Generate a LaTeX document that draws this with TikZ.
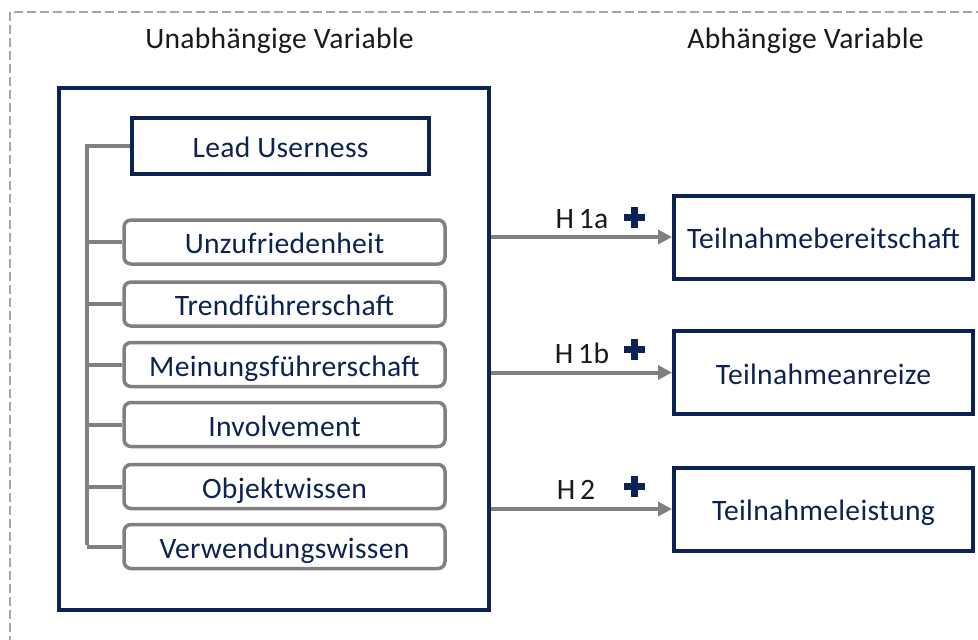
\documentclass[tikz,border=0pt]{standalone}
\usepackage{fontspec}
\setmainfont{Carlito}[LetterSpace=1]
\usetikzlibrary{arrows.meta}
\definecolor{navy}{RGB}{12,34,82}
\definecolor{linegray}{RGB}{128,128,128}
\definecolor{framegray}{RGB}{166,166,166}
\definecolor{inkblack}{RGB}{26,26,26}
\begin{document}
\begin{tikzpicture}[x=1pt,y=-1pt,
  font=\fontsize{29.6}{32}\selectfont,
  boxtext/.style={text height=23pt, text depth=0pt},
  frame/.style={draw=framegray, line width=1.3pt, dash pattern=on 9pt off 4pt},
  heading/.style={text=inkblack, inner sep=0pt, anchor=base},
  groupbox/.style={draw=navy, line width=4pt, minimum width=430pt, minimum height=522pt, inner sep=0pt},
  leadbox/.style={boxtext, draw=navy, line width=4pt, minimum width=297pt, minimum height=56pt, inner sep=0pt, text=navy},
  facet/.style={boxtext, draw=linegray, line width=3.5pt, rounded corners=7pt, minimum width=321pt, minimum height=44pt, inner sep=0pt, text=navy},
  target/.style={boxtext, draw=navy, line width=4pt, minimum width=299pt, minimum height=83pt, inner sep=0pt, text=navy},
  bracket/.style={draw=linegray, line width=4pt},
  hyp/.style={draw=linegray, line width=4pt, -{Triangle[length=14pt,width=14pt]}},
  hyplabel/.style={text=inkblack, inner sep=0pt, anchor=base},
  plussign/.style={fill=navy}
]
\useasboundingbox (0,0) rectangle (978,640);

% dashed outer frame (runs past the right and bottom edges)
\draw[frame] (10,12) rectangle (1000,660);

% column headings
\node[heading] (hIV) at (279.5,48.5) {Unabhängige Variable};
\node[heading] (hDV) at (805.5,48.5) {Abhängige Variable};

% independent variable group
\node[groupbox] (iv) at (274,349) {};
\node[leadbox] (lead) at (280.5,146) {Lead Userness};
\node[facet] (f1) at (284.5,242) {Unzufriedenheit};
\node[facet] (f2) at (284.5,304) {Trendführerschaft};
\node[facet] (f3) at (284.5,364.5) {Meinungsführerschaft};
\node[facet] (f4) at (284.5,424.5) {Involvement};
\node[facet] (f5) at (284.5,486.5) {Objektwissen};
\node[facet] (f6) at (284.5,546.5) {Verwendungswissen};

% bracket joining the facets to Lead Userness
\coordinate (spine) at (87,146);
\draw[bracket] (lead.west) -- (spine |- lead.west) -- ([yshift=2pt]spine |- f6.west);
\foreach \f in {f1,f2,f3,f4,f5,f6}
  \draw[bracket] (\f.west) -- (spine |- \f.west);

% dependent variables
\node[target] (t1) at (823.5,237) {Teilnahmebereitschaft};
\node[target] (t2) at (823.5,372.5) {Teilnahmeanreize};
\node[target] (t3) at (823.5,509) {Teilnahmeleistung};

% hypotheses
\draw[hyp] (iv.east |- t1.west) -- (t1.west);
\draw[hyp] (iv.east |- t2.west) -- (t2.west);
\draw[hyp] (iv.east |- t3.west) -- (t3.west);

\node[hyplabel] (l1) at (582,228) {H\,1a};
\node[hyplabel] (l2) at (582,363) {H\,1b};
\node[hyplabel] (l3) at (576,499) {H\,2};

% plus signs
\foreach \cy in {217.5,349.5,486} {
  \fill[plussign] (634,\cy) +(-10.5,-3.5) rectangle +(10.5,3.5);
  \fill[plussign] (634,\cy) +(-3.5,-10.5) rectangle +(3.5,10.5);
}
\end{tikzpicture}
\end{document}
